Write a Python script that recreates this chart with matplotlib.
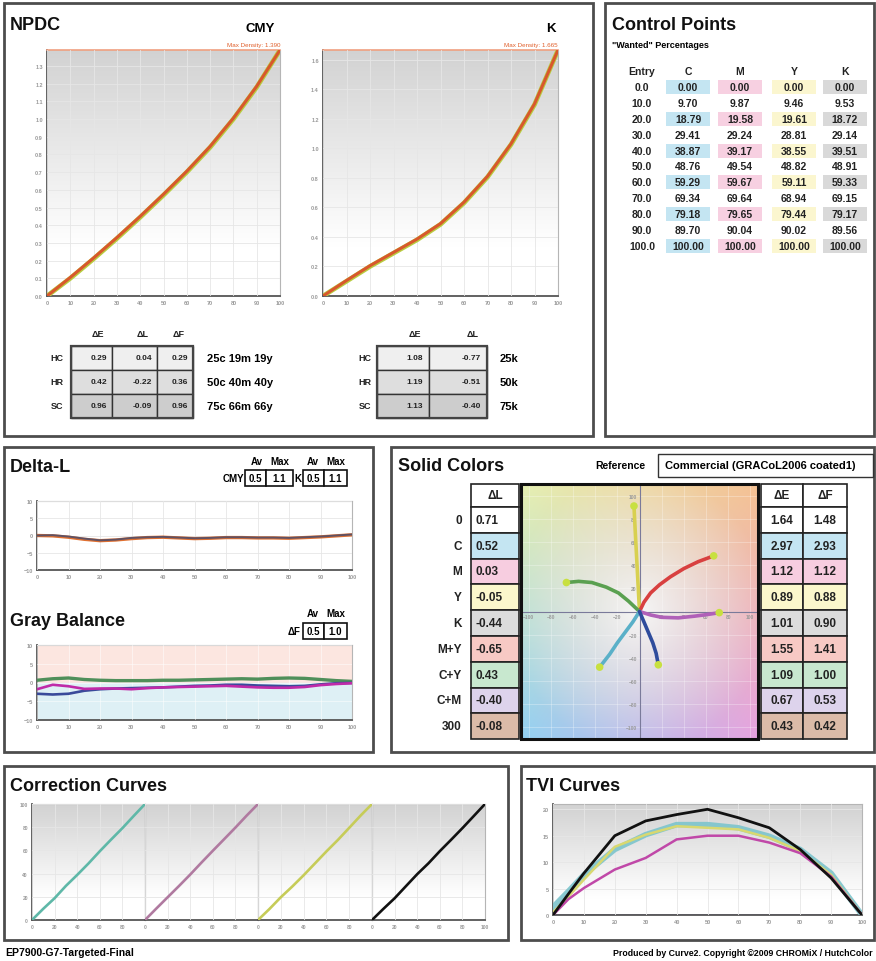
import numpy as np
import matplotlib.pyplot as plt
from matplotlib.patches import Rectangle

plt.rcParams['font.family'] = ['Liberation Sans', 'DejaVu Sans']
plt.rcParams['font.weight'] = 'bold'

W, H = 876, 962

# ---------------- data ----------------
tone = [0, 10, 20, 30, 40, 50, 60, 70, 80, 90, 100]
npdc_cmy_aim = [0, 0.10, 0.21, 0.325, 0.445, 0.57, 0.70, 0.84, 1.00, 1.18, 1.39]
npdc_cmy_meas = [0, 0.105, 0.215, 0.33, 0.45, 0.575, 0.705, 0.845, 1.005, 1.185, 1.39]
npdc_k_aim = [0, 0.10, 0.20, 0.29, 0.38, 0.485, 0.63, 0.805, 1.025, 1.295, 1.665]
npdc_k_meas = [0, 0.105, 0.205, 0.295, 0.385, 0.49, 0.635, 0.81, 1.03, 1.30, 1.665]
cmy_max_density = 1.390
k_max_density = 1.665

tol_rows = ['HC', 'HR', 'SC']
cmy_dE = [0.29, 0.42, 0.96]
cmy_dL = [0.04, -0.22, -0.09]
cmy_dF = [0.29, 0.36, 0.96]
cmy_patch = ['25c 19m 19y', '50c 40m 40y', '75c 66m 66y']
k_dE = [1.08, 1.19, 1.13]
k_dL = [-0.77, -0.51, -0.40]
k_patch = ['25k', '50k', '75k']

cp_entry = [0.0, 10.0, 20.0, 30.0, 40.0, 50.0, 60.0, 70.0, 80.0, 90.0, 100.0]
cp_c = [0.00, 9.70, 18.79, 29.41, 38.87, 48.76, 59.29, 69.34, 79.18, 89.70, 100.00]
cp_m = [0.00, 9.87, 19.58, 29.24, 39.17, 49.54, 59.67, 69.64, 79.65, 90.04, 100.00]
cp_y = [0.00, 9.46, 19.61, 28.81, 38.55, 48.82, 59.11, 68.94, 79.44, 90.02, 100.00]
cp_k = [0.00, 9.53, 18.72, 29.14, 39.51, 48.91, 59.33, 69.15, 79.17, 89.56, 100.00]

x5 = [0, 5, 10, 15, 20, 25, 30, 35, 40, 45, 50, 55, 60, 65, 70, 75, 80, 85, 90, 95, 100]
dl_cmy = [0, 0.1, -0.3, -0.9, -1.4, -1.2, -0.7, -0.5, -0.4, -0.6, -0.8, -0.7,
          -0.5, -0.5, -0.6, -0.6, -0.7, -0.5, -0.3, 0.0, 0.3]
dl_k = [0, -0.1, -0.5, -1.1, -1.5, -1.3, -0.9, -0.6, -0.5, -0.7, -0.9, -0.8,
        -0.6, -0.6, -0.7, -0.7, -0.8, -0.6, -0.4, -0.1, 0.2]
dl_cmy_av, dl_cmy_max, dl_k_av, dl_k_max = 0.5, 1.1, 0.5, 1.1

gb_green = [0.6, 1.0, 1.2, 0.8, 0.6, 0.5, 0.5, 0.5, 0.6, 0.6, 0.7, 0.8, 0.9,
            1.0, 0.9, 1.1, 1.2, 1.1, 0.8, 0.5, 0.3]
gb_blue = [-3.0, -3.2, -3.0, -2.2, -1.8, -1.6, -1.5, -1.4, -1.3, -1.1, -0.9, -0.8,
           -0.6, -0.6, -0.8, -0.9, -1.0, -0.9, -0.5, -0.2, -0.1]
gb_magenta = [-1.8, -0.6, -1.0, -1.7, -1.6, -1.6, -1.8, -1.5, -1.3, -1.2, -1.1,
              -1.0, -0.9, -1.1, -1.3, -1.4, -1.4, -1.2, -0.7, -0.4, -0.2]
gb_av, gb_max = 0.5, 1.0

solid_names = ['0', 'C', 'M', 'Y', 'K', 'M+Y', 'C+Y', 'C+M', '300']
solid_dL = [0.71, 0.52, 0.03, -0.05, -0.44, -0.65, 0.43, -0.40, -0.08]
solid_dE = [1.64, 2.97, 1.12, 0.89, 1.01, 1.55, 1.09, 0.67, 0.43]
solid_dF = [1.48, 2.93, 1.12, 0.88, 0.90, 1.41, 1.00, 0.53, 0.42]
solid_fill = ['#ffffff', '#c4e5f2', '#f7cde0', '#fbf7cc', '#dcdcdc',
              '#f7c9c4', '#c8e8cf', '#ddd3ec', '#dbbba8']

# a*, b* paths from paper to solid
path_y = ([0, -1, -2, -3, -4, -5], [0, 18, 36, 54, 72, 91])
path_r = ([0, 4, 10, 18, 28, 40, 53, 67], [0, 8, 16, 23, 30, 37, 43, 48])
path_g = ([0, -10, -19, -30, -43, -55, -66], [0, 9, 16, 21, 25, 26, 25])
path_m = ([0, 10, 20, 35, 50, 62, 72], [0, -3, -5, -5.5, -4, -2.5, -1])
path_c = ([0, -6, -13, -20, -27, -36], [0, -9, -18, -27, -37, -48])
path_b = ([0, 4, 8, 12, 15, 17], [0, -9, -18, -27, -36, -46])

tvi_x = [0, 5, 10, 20, 30, 40, 50, 60, 70, 80, 90, 100]
tvi_k = [0, 4.0, 7.9, 15.0, 17.8, 19.0, 20.0, 18.4, 16.5, 12.4, 7.0, 0]
tvi_c = [1.5, 4.5, 7.6, 12.4, 15.2, 17.1, 17.1, 16.5, 14.9, 12.4, 7.9, 0]
tvi_y = [0.5, 3.5, 6.7, 12.9, 15.2, 16.8, 16.5, 16.2, 14.6, 12.1, 7.6, 0]
tvi_m = [0, 3.0, 5.1, 8.6, 10.8, 14.3, 15.0, 15.0, 13.7, 11.7, 7.3, 0]

# ---------------- helpers ----------------
fig = plt.figure(figsize=(W / 100, H / 100), dpi=100)
bg = fig.add_axes([0, 0, 1, 1])
bg.set_xlim(0, W)
bg.set_ylim(H, 0)
bg.axis('off')


def add_ax(l, t, r, b):
    return fig.add_axes([l / W, 1 - b / H, (r - l) / W, (b - t) / H])


def vgrad(ax, top='#d4d4d4', bottom='#ffffff', stop=0.75):
    t = np.clip(np.linspace(0, 1, 200) / stop, 0, 1)[:, None]
    c1 = np.array(plt.matplotlib.colors.to_rgb(top))
    c2 = np.array(plt.matplotlib.colors.to_rgb(bottom))
    img = (c1 * (1 - t) + c2 * t)[:, None, :].repeat(2, axis=1)
    ax.imshow(img, extent=[0, 1, 0, 1], transform=ax.transAxes,
              aspect='auto', zorder=0)


def style(ax, grid=True):
    ax.tick_params(labelsize=4, colors='#9a9a9a', length=0, pad=3)
    for s in ['left', 'bottom']:
        ax.spines[s].set_color('#555555')
        ax.spines[s].set_linewidth(1.3)
    for s in ['top', 'right']:
        ax.spines[s].set_color('#b5b5b5')
        ax.spines[s].set_linewidth(0.8)
    if grid:
        ax.grid(True, color='#e6e6e6', lw=0.6, zorder=1)
        ax.set_axisbelow(False)


def panel(x0, y0, x1, y1):
    bg.add_patch(Rectangle((x0, y0), x1 - x0, y1 - y0, fill=False,
                           ec='#4d4d4d', lw=2.0))


def cell(x, y, w, h, fc, ec='#333333', lw=1.0):
    bg.add_patch(Rectangle((x, y), w, h, fc=fc, ec=ec, lw=lw))


# ---------------- panels ----------------
panel(4, 4, 593, 437)
panel(605, 4, 874, 437)
panel(4, 448, 373, 753)
panel(391, 448, 874, 753)
panel(4, 767, 508, 941)
panel(521, 767, 874, 941)

title_kw = dict(fontsize=13, fontweight='bold', va='center', color='#111111')
bg.text(10, 25, 'NPDC', **title_kw)
bg.text(612, 26, 'Control Points', **title_kw)
bg.text(10, 468, 'Delta-L', **title_kw)
bg.text(10, 622, 'Gray Balance', **title_kw)
bg.text(398, 467, 'Solid Colors', **title_kw)
bg.text(10, 787, 'Correction Curves', **title_kw)
bg.text(526, 787, 'TVI Curves', **title_kw)

# ---------------- NPDC ----------------
for (l, r, name, aim, meas, dmax, ticks) in [
        (47, 280, 'CMY', npdc_cmy_aim, npdc_cmy_meas, cmy_max_density,
         np.arange(0, 1.31, 0.1)),
        (323, 558, 'K', npdc_k_aim, npdc_k_meas, k_max_density,
         np.arange(0, 1.61, 0.2))]:
    ax = add_ax(l, 51, r, 297)
    vgrad(ax, '#d2d2d2', '#ffffff', 0.8)
    ax.plot(tone, aim, color='#b8cc40', lw=3.4, zorder=3)
    ax.plot(tone, meas, color='#d8582c', lw=2.2, zorder=4)
    ax.set_xlim(0, 100)
    ax.set_ylim(0, dmax)
    ax.set_xticks(tone)
    ax.set_yticks(ticks)
    ax.set_yticklabels([f'{v:.1f}' for v in ticks])
    style(ax)
    ax.spines['top'].set_color('#f0a080')
    ax.spines['top'].set_linewidth(1.2)
    ax.text(1, 1.012, f'Max Density: {dmax:.3f}', transform=ax.transAxes,
            ha='right', va='bottom', fontsize=4.5, color='#e0602c',
            fontweight='normal')
    ax.text(1 - 0.02 if name == 'CMY' else 0.99, 1.09, name,
            transform=ax.transAxes, ha='right', va='center', fontsize=9.5,
            fontweight='bold')

# tolerance tables
row_y = [347, 371, 395]
row_h = 24
row_fc = ['#efefef', '#dedede', '#cdcdcd']
small = dict(fontsize=6, fontweight='bold', va='center', color='#222222')
lab = dict(fontsize=6.5, fontweight='bold', va='center', color='#222222')

cols = [(71, 112), (112, 157), (157, 193)]
for j, hdr in enumerate(['ΔE', 'ΔL', 'ΔF']):
    bg.text(cols[j][1] - 8, 335, hdr, ha='right', **lab)
for i, r in enumerate(tol_rows):
    bg.text(57, row_y[i] + 12, r, ha='center', **lab)
    for j, vals in enumerate([cmy_dE, cmy_dL, cmy_dF]):
        cell(cols[j][0], row_y[i], cols[j][1] - cols[j][0], row_h, row_fc[i])
        bg.text(cols[j][1] - 5, row_y[i] + 12, f'{vals[i]:.2f}', ha='right',
                **small)
    bg.text(207, row_y[i] + 12, cmy_patch[i], ha='left', fontsize=8,
            fontweight='bold', va='center')
bg.add_patch(Rectangle((71, 347), 122, 72, fill=False, ec='#444444', lw=1.6))

kcols = [(377, 429), (429, 487)]
for j, hdr in enumerate(['ΔE', 'ΔL']):
    bg.text(kcols[j][1] - 8, 335, hdr, ha='right', **lab)
for i, r in enumerate(tol_rows):
    bg.text(365, row_y[i] + 12, r, ha='center', **lab)
    for j, vals in enumerate([k_dE, k_dL]):
        cell(kcols[j][0], row_y[i], kcols[j][1] - kcols[j][0], row_h, row_fc[i])
        bg.text(kcols[j][1] - 6, row_y[i] + 12, f'{vals[i]:.2f}', ha='right',
                **small)
    bg.text(500, row_y[i] + 12, k_patch[i], ha='left', fontsize=8,
            fontweight='bold', va='center')
bg.add_patch(Rectangle((377, 347), 110, 72, fill=False, ec='#444444', lw=1.6))

# ---------------- Control Points ----------------
bg.text(612, 46, '"Wanted" Percentages', fontsize=6.5, fontweight='bold',
        va='center')
cp_cols = [688, 740, 794, 845]
cp_fill = ['#c4e5f2', '#f7d0e1', '#fbf6cf', '#d9d9d9']
cpk = dict(fontsize=7.5, fontweight='bold', va='center', ha='center',
           color='#222222')
bg.text(642, 72, 'Entry', **cpk)
for x, h in zip(cp_cols, ['C', 'M', 'Y', 'K']):
    bg.text(x, 72, h, **cpk)
for i, e in enumerate(cp_entry):
    y = 88 + i * 15.9
    bg.text(642, y, f'{e:.1f}', **cpk)
    for j, vals in enumerate([cp_c, cp_m, cp_y, cp_k]):
        if i % 2 == 0:
            bg.add_patch(Rectangle((cp_cols[j] - 22, y - 7), 44, 14,
                                   fc=cp_fill[j], ec='none'))
        bg.text(cp_cols[j], y, f'{vals[i]:.2f}', **cpk)

# ---------------- Delta-L ----------------
ax = add_ax(37, 502, 352, 571)
ax.plot(x5, dl_k, color='#e07030', lw=2.4, zorder=3)
ax.plot(x5, dl_cmy, color='#404a70', lw=1.4, zorder=4, alpha=0.8)
ax.set_xlim(0, 100)
ax.set_ylim(-10, 10)
ax.set_xticks(tone)
ax.set_yticks([-10, -5, 0, 5, 10])
style(ax)

box = dict(fontsize=7, fontweight='bold', va='center', ha='center')
bg.text(257, 462, 'Av', **box)
bg.text(280, 462, 'Max', **box)
bg.text(313, 462, 'Av', **box)
bg.text(336, 462, 'Max', **box)
bg.text(244, 479, 'CMY', ha='right', fontsize=7, fontweight='bold', va='center')
for x0, x1, v in [(245, 266, dl_cmy_av), (266, 293, dl_cmy_max),
                  (303, 324, dl_k_av), (324, 347, dl_k_max)]:
    cell(x0, 471, x1 - x0, 16, 'white', '#111111', 1.2)
    bg.text((x0 + x1) / 2, 479, f'{v:.1f}', **box)
bg.text(301, 479, 'K', ha='right', fontsize=7, fontweight='bold', va='center')

# ---------------- Gray Balance ----------------
ax = add_ax(37, 646, 352, 721)
ax.axhspan(0, 10, color='#fce6e0', zorder=0)
ax.axhspan(-10, 0, color='#def0f5', zorder=0)
ax.plot(x5, gb_green, color='#4f8f5a', lw=2.4, zorder=3)
ax.plot(x5, gb_blue, color='#3a4a9a', lw=1.9, zorder=3)
ax.plot(x5, gb_magenta, color='#c02aa8', lw=1.9, zorder=4)
ax.set_xlim(0, 100)
ax.set_ylim(-10, 10)
ax.set_xticks(tone)
ax.set_yticks([-10, -5, 0, 5, 10])
style(ax)
ax.grid(True, color='#ffffff', lw=0.5, alpha=0.7)

bg.text(313, 614, 'Av', **box)
bg.text(336, 614, 'Max', **box)
bg.text(301, 632, 'ΔF', ha='right', fontsize=7, fontweight='bold', va='center')
for x0, x1, v in [(303, 324, gb_av), (324, 347, gb_max)]:
    cell(x0, 624, x1 - x0, 16, 'white', '#111111', 1.2)
    bg.text((x0 + x1) / 2, 632, f'{v:.1f}', **box)

# ---------------- Solid Colors ----------------
bg.text(620, 466, 'Reference', fontsize=7.5, fontweight='bold', va='center',
        ha='center')
cell(658, 455, 215, 23, 'white', '#333333', 1.0)
bg.text(665, 466.5, 'Commercial (GRACoL2006 coated1)', fontsize=8,
        fontweight='bold', va='center')

sy0, sh = 508, 25.8
stab = dict(fontsize=8.5, fontweight='bold', va='center', color='#222222')
cell(471, 485, 48, 23, 'white', '#222222', 1.2)
bg.text(495, 496.5, 'ΔL', ha='center', **stab)
cell(761, 485, 42, 23, 'white', '#222222', 1.2)
bg.text(782, 496.5, 'ΔE', ha='center', **stab)
cell(803, 485, 44, 23, 'white', '#222222', 1.2)
bg.text(825, 496.5, 'ΔF', ha='center', **stab)
for i, nm in enumerate(solid_names):
    y = sy0 + i * sh
    bg.text(462, y + sh / 2, nm, ha='right', **stab)
    cell(471, y, 48, sh, solid_fill[i], '#222222', 1.2)
    bg.text(476, y + sh / 2, f'{solid_dL[i]:.2f}', ha='left', **stab)
    cell(761, y, 42, sh, solid_fill[i], '#222222', 1.2)
    bg.text(782, y + sh / 2, f'{solid_dE[i]:.2f}', ha='center', **stab)
    cell(803, y, 44, sh, solid_fill[i], '#222222', 1.2)
    bg.text(825, y + sh / 2, f'{solid_dF[i]:.2f}', ha='center', **stab)

ax = add_ax(521, 485, 758, 740)
ga, gb_ = np.meshgrid(np.linspace(-1, 1, 120), np.linspace(1, -1, 120))
tl = np.array([0.90, 0.94, 0.70])
tr = np.array([0.96, 0.76, 0.58])
bl = np.array([0.58, 0.82, 0.95])
br = np.array([0.90, 0.64, 0.88])
u = ((ga + 1) / 2)[..., None]
v = ((gb_ + 1) / 2)[..., None]
mix = (tl * (1 - u) * v + tr * u * v + bl * (1 - u) * (1 - v)
       + br * u * (1 - v))
t = np.clip(np.sqrt(ga ** 2 + gb_ ** 2) / 1.1, 0, 1)[..., None] ** 0.8
img = np.ones(3) * (1 - t) * 0.97 + mix * t
ax.imshow(img, extent=[-107, 107, -110, 110], aspect='auto', zorder=0)
for (pa, pb), col in [(path_y, '#d8d050'), (path_r, '#d84040'),
                      (path_g, '#5aa050'), (path_m, '#b060b8'),
                      (path_c, '#5ab0c8'), (path_b, '#2f4c9c')]:
    ax.plot(pa, pb, color=col, lw=2.6, zorder=3, solid_capstyle='round',
            solid_joinstyle='round')
    ax.scatter(pa[-1], pb[-1], s=30, color='#c8e040', zorder=4,
               edgecolors='none')
ax.set_xlim(-107, 107)
ax.set_ylim(-110, 110)
ax.spines['left'].set_position('zero')
ax.spines['bottom'].set_position('zero')
ax.spines['top'].set_visible(False)
ax.spines['right'].set_visible(False)
for s in ['left', 'bottom']:
    ax.spines[s].set_color('#7a7a9a')
    ax.spines[s].set_linewidth(0.8)
ax.set_xticks([-100, -80, -60, -40, -20, 20, 40, 60, 80, 100])
ax.set_yticks([-100, -80, -60, -40, -20, 20, 40, 60, 80, 100])
ax.tick_params(labelsize=3.5, colors='#9a9a9a', length=0, pad=2)
ax.grid(True, color='#ffffff', lw=0.4, alpha=0.5)
ax.add_patch(Rectangle((0, 0), 1, 1, transform=ax.transAxes, fill=False,
                       ec='#111111', lw=2.2, clip_on=False, zorder=6))

# ---------------- Correction Curves ----------------
cc = [(cp_c, '#5fb8a8'), (cp_m, '#b07aa0'), (cp_y, '#c6cc58'), (cp_k, '#111111')]
edges = [32, 145, 258, 372, 485]
for k, (vals, col) in enumerate(cc):
    ax = add_ax(edges[k], 805, edges[k + 1], 921)
    vgrad(ax, '#d2d2d2', '#ffffff', 0.8)
    ax.plot(cp_entry, vals, color=col, lw=1.9, zorder=3)
    ax.set_xlim(0, 100)
    ax.set_ylim(0, 100)
    ax.set_xticks([0, 20, 40, 60, 80, 100])
    ax.set_yticks([0, 20, 40, 60, 80, 100])
    style(ax)
    ax.tick_params(labelsize=3.5)
    if k < 3:
        ax.set_xticklabels(['0', '20', '40', '60', '80', ''])
    if k > 0:
        ax.set_yticklabels([])
        ax.spines['left'].set_color('#888888')
        ax.spines['left'].set_linewidth(0.8)

# ---------------- TVI Curves ----------------
ax = add_ax(553, 805, 862, 916)
vgrad(ax, '#d2d2d2', '#ffffff', 0.85)
ax.axhline(0, color='#9080c0', lw=1.2, zorder=2)
ax.plot(tvi_x, tvi_c, color='#7cc4cc', lw=4.0, zorder=3, alpha=0.9)
ax.plot(tvi_x, tvi_y, color='#d8d870', lw=1.8, zorder=3)
ax.plot(tvi_x, tvi_m, color='#c048a8', lw=1.8, zorder=4)
ax.plot(tvi_x, tvi_k, color='#111111', lw=2.0, zorder=5)
ax.set_xlim(0, 100)
ax.set_ylim(0, 21)
ax.set_xticks(tone)
ax.set_yticks([0, 5, 10, 15, 20])
style(ax)

# ---------------- footer ----------------
bg.text(5, 953, 'EP7900-G7-Targeted-Final', fontsize=7.5, fontweight='bold',
        va='center')
bg.text(873, 954, 'Produced by Curve2. Copyright ©2009 CHROMiX / HutchColor',
        fontsize=6.3, fontweight='bold', va='center', ha='right')

fig.savefig('out.png', dpi=100)
